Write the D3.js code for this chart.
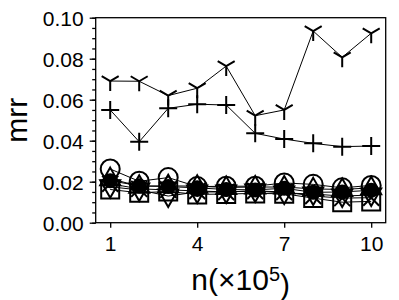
<!DOCTYPE html>
<html>
<head>
<script src="https://cdn.jsdelivr.net/npm/d3@7"></script>
<style>
  body { margin: 0; background: #fff; }
  text { font-family: "Liberation Sans", Arial, Helvetica, sans-serif; fill: #000; }
</style>
</head>
<body>
<div id="chart"></div>
<script>
// n in units of 10^5
const nValues = [1, 2, 3, 4, 5, 6, 7, 8, 9, 10];
const xTicks = [1, 4, 7, 10];
const yTicks = [0, 0.02, 0.04, 0.06, 0.08, 0.10];

// upper two series
const triDownSeries = [0.0691, 0.0690, 0.0620, 0.0656, 0.0764, 0.0522, 0.0550, 0.0935, 0.0807, 0.0924];
const plusSeries    = [0.0550, 0.0395, 0.0558, 0.0578, 0.0574, 0.0436, 0.0408, 0.0387, 0.0371, 0.0374];

// lower cluster
const circleSeries  = [0.0262, 0.0202, 0.0220, 0.0176, 0.0178, 0.0178, 0.0194, 0.0187, 0.0170, 0.0182];
const squareSeries  = [0.0162, 0.0146, 0.0152, 0.0138, 0.0140, 0.0143, 0.0141, 0.0120, 0.0100, 0.0104];
const triUpSeries   = [0.0215, 0.0178, 0.0180, 0.0178, 0.0172, 0.0174, 0.0174, 0.0165, 0.0162, 0.0170];
const triDnSeries   = [0.0175, 0.0160, 0.0130, 0.0150, 0.0150, 0.0155, 0.0145, 0.0140, 0.0130, 0.0135];
const dotSeries     = [0.0205, 0.0180, 0.0176, 0.0170, 0.0162, 0.0160, 0.0168, 0.0148, 0.0150, 0.0158];
const xSeries       = [0.0190, 0.0165, 0.0160, 0.0155, 0.0150, 0.0155, 0.0150, 0.0130, 0.0120, 0.0122];

const W = 399, H = 300;
const margin = {top: 17.7, right: 13.3, bottom: 77.3, left: 95.7};
const iw = W - margin.left - margin.right,
      ih = H - margin.top - margin.bottom;

const svg = d3.select("#chart").append("svg")
    .attr("width", W).attr("height", H);
const g = svg.append("g")
    .attr("transform", "translate(" + margin.left + "," + margin.top + ")");

const x = d3.scaleLinear().domain([0.5, 10.5]).range([0, iw]);
const y = d3.scaleLinear().domain([0, 0.10]).range([ih, 0]);

// marker path builders (centered at 0,0)
const shapes = {
    tridown: () => "M0,0L0,10M0,0L-8.5,-5M0,0L8.5,-5",
    plus: () => "M-9,0H9M0,-9V9",
    circle: () => "M9.5,0A9.5,9.5,0,1,1,-9.5,0A9.5,9.5,0,1,1,9.5,0Z",
    square: () => "M-9,-9H9V9H-9Z",
    triup: () => "M0,-11L10,6.5L-10,6.5Z",
    tridn: () => "M0,11L10,-6.5L-10,-6.5Z",
    dot: () => "M6.5,0A6.5,6.5,0,1,1,-6.5,0A6.5,6.5,0,1,1,6.5,0Z",
    xmark: () => "M-8,-8L8,8M-8,8L8,-8"
};

const series = [
    {vals: squareSeries, shape: "square", fill: "none"},
    {vals: xSeries, shape: "xmark", fill: "none"},
    {vals: triDnSeries, shape: "tridn", fill: "none"},
    {vals: triUpSeries, shape: "triup", fill: "none"},
    {vals: dotSeries, shape: "dot", fill: "#000"},
    {vals: circleSeries, shape: "circle", fill: "none"},
    {vals: plusSeries, shape: "plus", fill: "none"},
    {vals: triDownSeries, shape: "tridown", fill: "none"}
];

const line = d3.line().x((d, i) => x(nValues[i])).y(d => y(d));

series.forEach(s => {
    g.append("path")
        .attr("d", line(s.vals))
        .attr("fill", "none")
        .attr("stroke", "#000")
        .attr("stroke-width", 1);
    g.selectAll(null)
        .data(s.vals)
        .enter().append("path")
        .attr("transform", (d, i) => "translate(" + x(nValues[i]) + "," + y(d) + ")")
        .attr("d", shapes[s.shape]())
        .attr("fill", s.fill)
        .attr("stroke", "#000")
        .attr("stroke-width", 2);
});

// frame
g.append("rect")
    .attr("x", 0).attr("y", 0).attr("width", iw).attr("height", ih)
    .attr("fill", "none").attr("stroke", "#000").attr("stroke-width", 1.3);

// y axis
const yAxis = g.append("g")
    .call(d3.axisLeft(y).tickValues(yTicks).tickFormat(d3.format(".2f")).tickSize(6).tickPadding(6));
yAxis.select(".domain").remove();
yAxis.selectAll("text").style("font-size", "21px").attr("dy", "0.36em");
yAxis.selectAll("line").attr("stroke-width", 1.3);
g.append("g")
    .call(d3.axisLeft(y).ticks(20).tickFormat("").tickSize(3.5))
    .call(a => a.select(".domain").remove())
    .selectAll("line").attr("stroke-width", 1.3);

// x axis
const xAxis = g.append("g")
    .attr("transform", "translate(0," + ih + ")")
    .call(d3.axisBottom(x).tickValues(xTicks).tickSize(5).tickPadding(8));
xAxis.select(".domain").remove();
xAxis.selectAll("text").style("font-size", "21px");
xAxis.selectAll("line").attr("stroke-width", 1.3);

// axis titles
svg.append("text")
    .attr("transform", "translate(27," + (margin.top + ih / 2) + ") rotate(-90)")
    .attr("text-anchor", "middle")
    .style("font-size", "30px")
    .text("mrr");

const xt = svg.append("text")
    .attr("x", margin.left + iw / 2)
    .attr("y", 290)
    .attr("text-anchor", "middle")
    .style("font-size", "30px");
xt.append("tspan").text("n(×10");
xt.append("tspan").attr("dy", "-0.45em").style("font-size", "20px").text("5");
xt.append("tspan").attr("dy", "0.45em").text(")");
</script>
</body>
</html>
